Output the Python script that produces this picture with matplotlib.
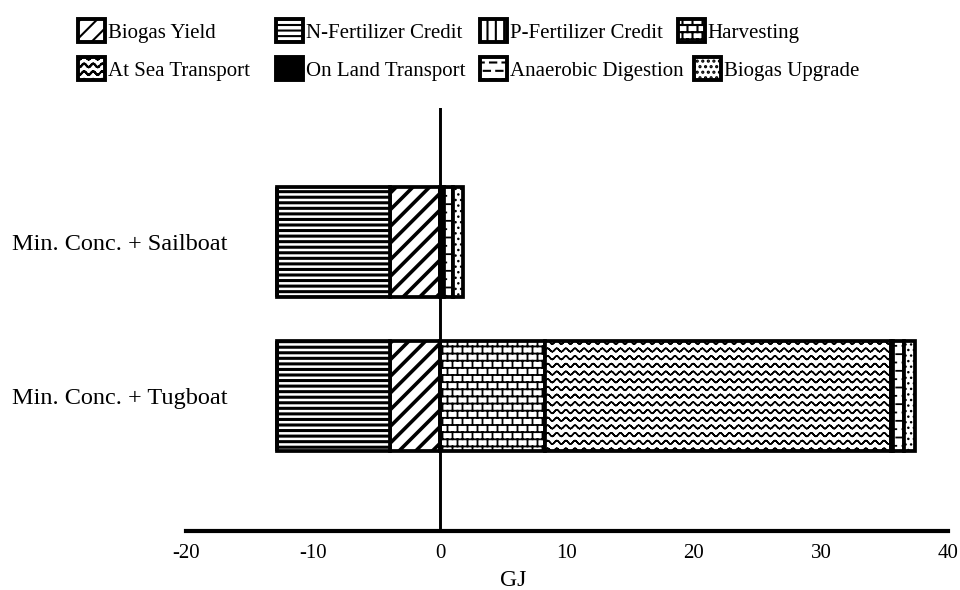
import numpy as np
import matplotlib
matplotlib.use("Agg")
import matplotlib.pyplot as plt
import matplotlib.hatch as mhatch
import matplotlib.patches as mpatches
from matplotlib.path import Path

# ---- data (GJ) ----
categories = ["Min. Conc. + Tugboat", "Min. Conc. + Sailboat"]
biogas_yield = [-3.9, -3.9]
n_fertilizer_credit = [-8.9, -8.9]
p_fertilizer_credit = [0.0, 0.0]
harvesting = [8.3, 0.0]
at_sea_transport = [27.2, 0.0]
on_land_transport = [0.2, 0.3]
anaerobic_digestion = [0.8, 0.7]
biogas_upgrade = [0.9, 0.8]
x_ticks = [-20, -10, 0, 10, 20, 30, 40]


# ---- extra hatch patterns: brick ('*'), wave ('O'), staggered dashes ('o') ----
def _wrap(segs):
    out = []
    for (x0, y0), (x1, y1) in segs:
        if x1 > 1.0 + 1e-9 and y0 == y1:
            out.append(((x0, y0), (1.0, y1)))
            out.append(((0.0, y0), (x1 - 1.0, y1)))
        elif y1 > 1.0 + 1e-9 and x0 == x1:
            out.append(((x0, y0), (x1, 1.0)))
            out.append(((x0, 0.0), (x1, y1 - 1.0)))
        else:
            out.append(((x0, y0), (x1, y1)))
    return out


class _SegmentHatch(mhatch.HatchPatternBase):
    char = None

    def __init__(self, hatch, density):
        self.segs = _wrap(self.build()) if hatch.count(self.char) else []
        self.num_vertices = 2 * len(self.segs)

    def set_vertices_and_codes(self, vertices, codes):
        vertices[:] = np.array(self.segs, dtype=float).reshape(-1, 2)
        codes[0::2] = Path.MOVETO
        codes[1::2] = Path.LINETO


class BrickHatch(_SegmentHatch):
    char = '*'

    def build(self):
        rows, cols = 14, 10
        h, w = 1.0 / rows, 1.0 / cols
        segs = []
        for r in range(rows):
            y0 = (r + 0.5) * h
            segs.append(((0.0, y0), (1.0, y0)))
            off = 0.5 * w if r % 2 else 0.0
            for c in range(cols):
                x = (c + 0.25) * w + off
                segs.append(((x, y0), (x, y0 + h)))
        return segs


class WaveHatch(_SegmentHatch):
    char = 'O'

    def build(self):
        rows, waves, steps = 13, 11, 8
        xs = np.linspace(0.0, 1.0, waves * steps + 1)
        segs = []
        for r in range(rows):
            ys = (r + 0.5) / rows + 0.017 * np.sin(2 * np.pi * waves * xs)
            for i in range(len(xs) - 1):
                segs.append(((xs[i], ys[i]), (xs[i + 1], ys[i + 1])))
        return segs


class DashHatch(_SegmentHatch):
    char = 'o'

    def build(self):
        rows, cols = 12, 8
        segs = []
        for r in range(rows):
            y = (r + 0.5) / rows
            for c in range(cols):
                x0 = (c + 0.2 + 0.5 * (r % 2)) / cols
                segs.append(((x0, y), (x0 + 0.5 / cols, y)))
        return segs


mhatch._hatch_types = [mhatch.HorizontalHatch, mhatch.VerticalHatch,
                       mhatch.NorthEastHatch, mhatch.SouthEastHatch,
                       DashHatch, WaveHatch, mhatch.SmallFilledCircles,
                       BrickHatch]

plt.rcParams['font.family'] = ['Liberation Serif', 'DejaVu Serif']
plt.rcParams['hatch.linewidth'] = 1.5

# name, values, hatch, hatch linewidth, face colour
neg_series = [
    ("Biogas Yield", biogas_yield, '//', 2.6, 'white'),
    ("N-Fertilizer Credit", n_fertilizer_credit, '---', 2.2, 'white'),
    ("P-Fertilizer Credit", p_fertilizer_credit, '||', 2.0, 'white'),
]
pos_series = [
    ("Harvesting", harvesting, '*', 1.3, 'white'),
    ("At Sea Transport", at_sea_transport, 'O', 1.1, 'white'),
    ("On Land Transport", on_land_transport, None, 1.0, 'black'),
    ("Anaerobic Digestion", anaerobic_digestion, 'o', 1.3, 'white'),
    ("Biogas Upgrade", biogas_upgrade, '...', 1.0, 'white'),
]
styles = {name: (hatch, hlw, fc) for name, _, hatch, hlw, fc in neg_series + pos_series}


def set_hatch_lw(patch, lw):
    if hasattr(patch, "set_hatch_linewidth"):
        patch.set_hatch_linewidth(lw)


fig = plt.figure(figsize=(9.6, 5.9), dpi=100)
ax = fig.add_axes([0.19375, 0.1, 0.79375, 0.717])

ypos = np.arange(len(categories))
bar_h = 0.71

for series, cum in ((neg_series, np.zeros(len(categories))),
                    (pos_series, np.zeros(len(categories)))):
    for name, vals, hatch, hlw, fc in series:
        vals = np.asarray(vals, dtype=float)
        with plt.rc_context({'hatch.linewidth': hlw}):
            bars = ax.barh(ypos, vals, left=cum, height=bar_h, color=fc,
                           edgecolor='black', linewidth=2.7, hatch=hatch,
                           zorder=2)
        for p in bars:
            set_hatch_lw(p, hlw)
        cum += vals

ax.axvline(0, color='black', lw=2.1, zorder=4)

ax.set_xlim(-20, 40)
ax.set_ylim(-0.877, 1.87)
ax.set_xticks(x_ticks)
ax.set_xticklabels([str(t) for t in x_ticks])
ax.set_yticks(ypos)
ax.set_yticklabels(categories)
ax.tick_params(axis='x', length=0, pad=9, labelsize=15)
ax.tick_params(axis='y', length=0, pad=-30, labelsize=17.5)
for lab in ax.get_yticklabels():
    lab.set_horizontalalignment('right')

for side in ('top', 'right', 'left'):
    ax.spines[side].set_visible(False)
ax.spines['bottom'].set_linewidth(3.0)

ax.set_xlabel("GJ", fontsize=17)
ax.xaxis.set_label_coords(0.43, -0.116)
ax.xaxis.label.set_verticalalignment('center')

# legend entries: name, handle left (px), row centre (px)
legend_layout = [
    ("Biogas Yield", 78, 31), ("N-Fertilizer Credit", 276, 31),
    ("P-Fertilizer Credit", 480, 31), ("Harvesting", 678, 31),
    ("At Sea Transport", 78, 69), ("On Land Transport", 276, 69),
    ("Anaerobic Digestion", 480, 69), ("Biogas Upgrade", 694, 69),
]
W, H = 960.0, 590.0
for name, xl, yc in legend_layout:
    hatch, hlw, fc = styles[name]
    with plt.rc_context({'hatch.linewidth': hlw}):
        handle = mpatches.Patch(facecolor=fc, edgecolor='black', hatch=hatch,
                                linewidth=2.8, joinstyle='round')
    set_hatch_lw(handle, hlw)
    fig.legend(handles=[handle], labels=[name], loc='center left',
               bbox_to_anchor=(xl / W, 1 - yc / H), frameon=False,
               fontsize=15, handlelength=1.3, handleheight=1.3,
               handletextpad=0.12, borderpad=0, borderaxespad=0)

fig.savefig("out.png", dpi=100)
